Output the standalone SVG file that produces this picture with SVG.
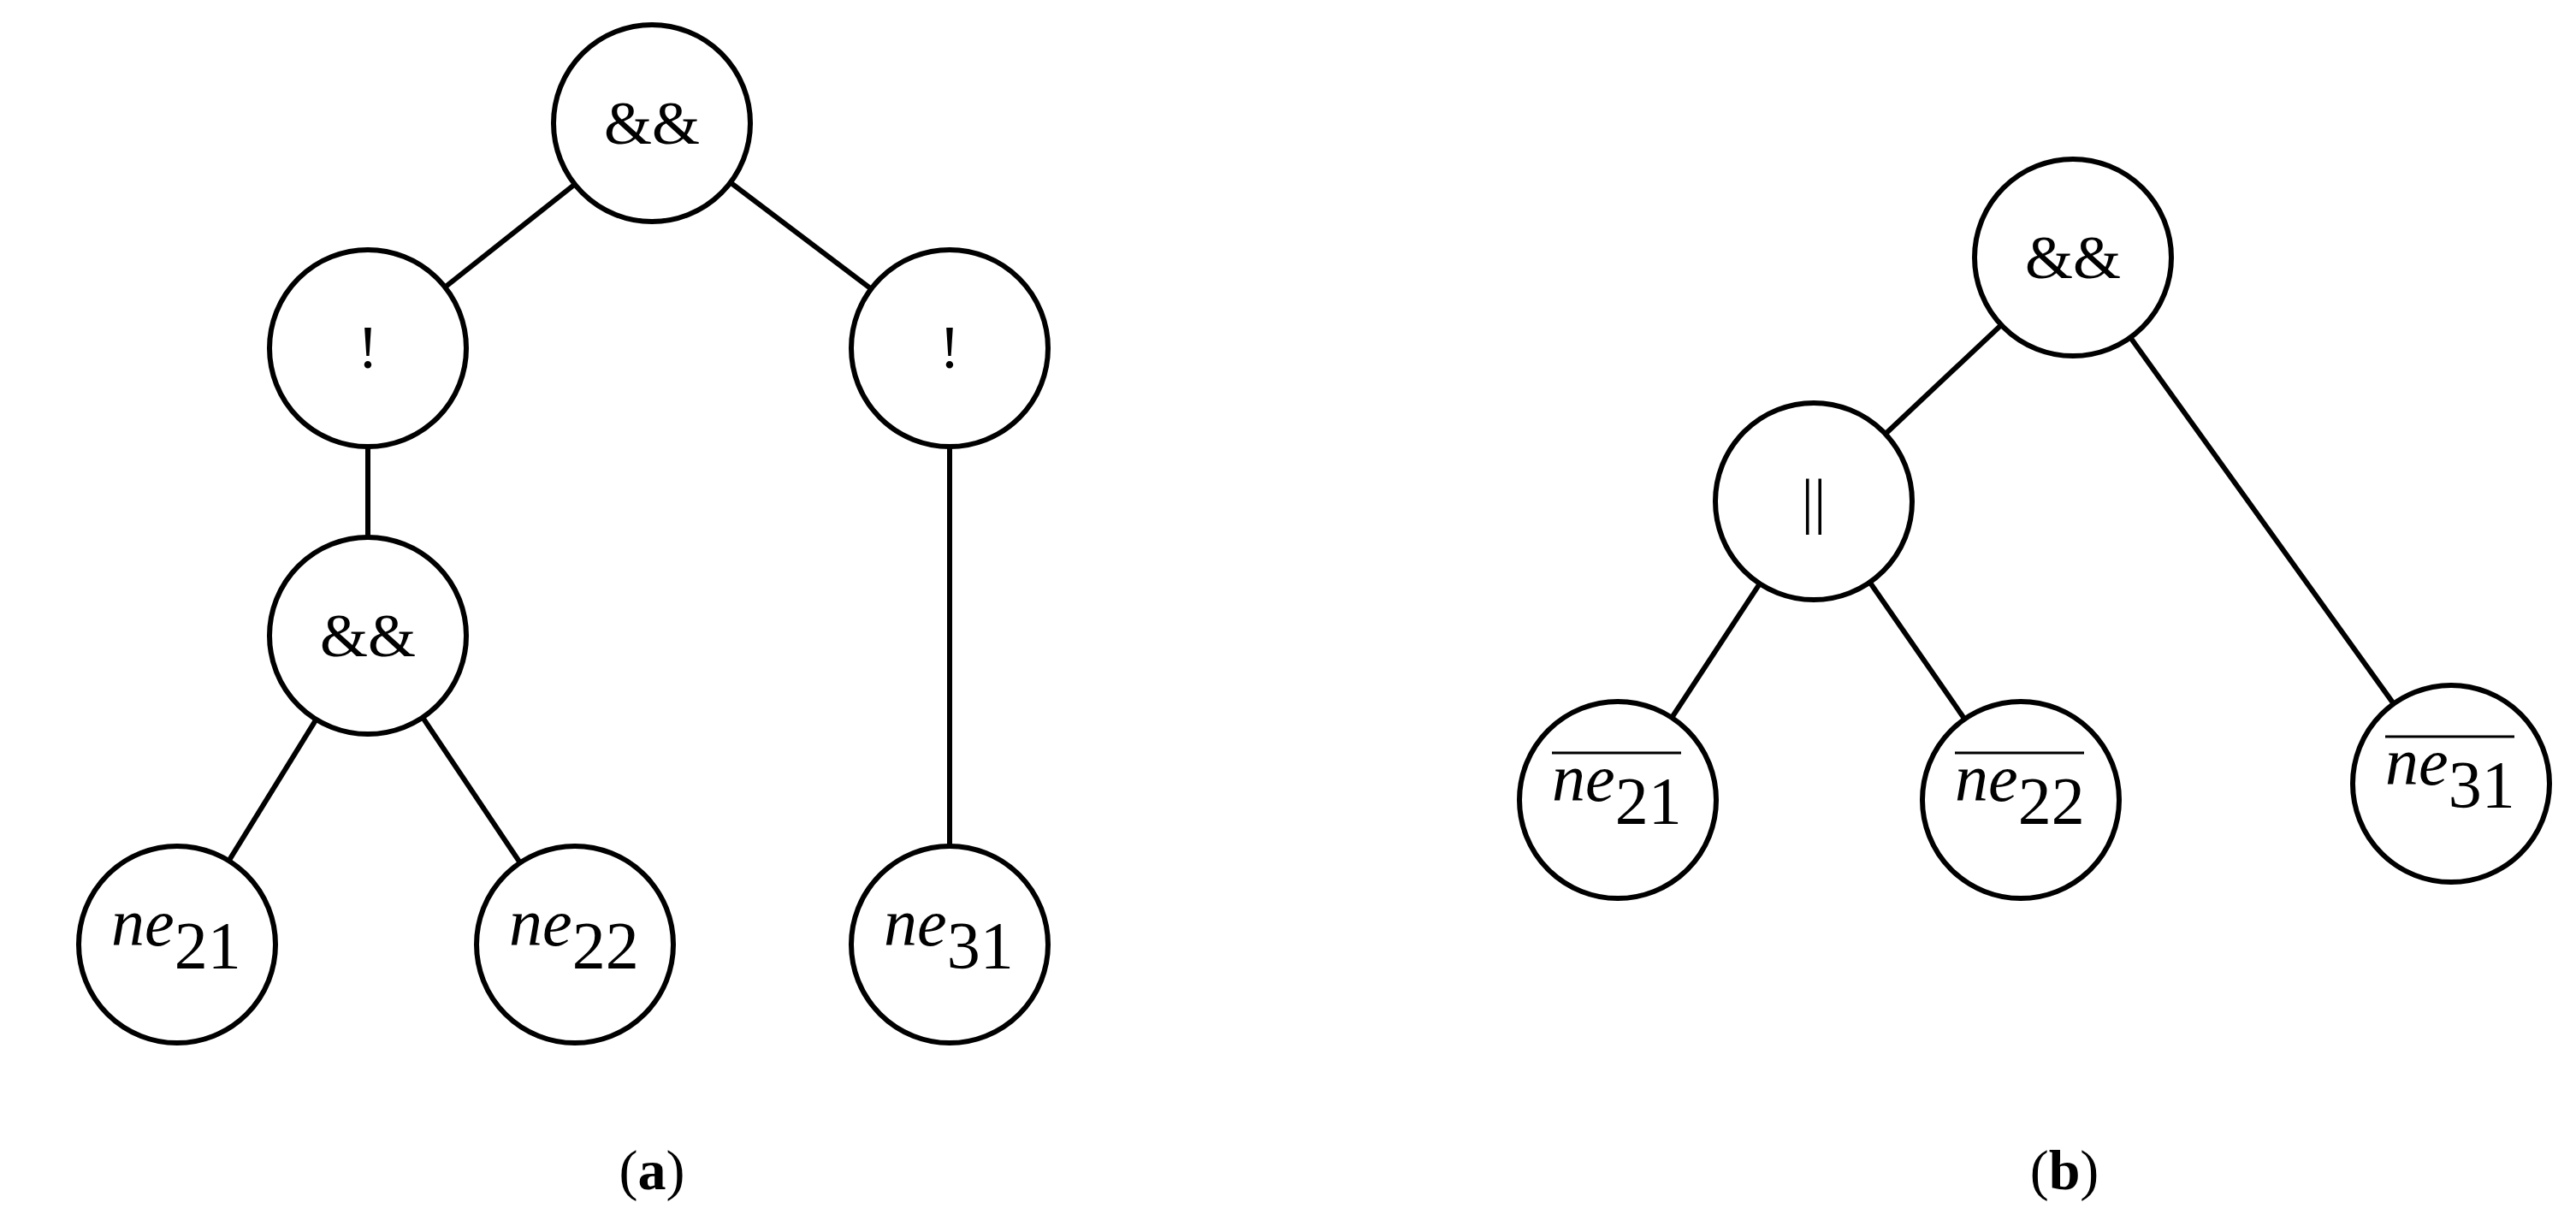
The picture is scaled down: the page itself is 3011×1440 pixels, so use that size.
<svg xmlns="http://www.w3.org/2000/svg" width="3011" height="1440" viewBox="0 0 3011 1440">
<style>
circle{fill:#fff;stroke:#000;stroke-width:6}
line{stroke:#000;stroke-width:6}
text{font-family:"Liberation Serif",serif;text-anchor:middle;fill:#000}
.op{font-size:72px}
.v{font-size:78px;text-anchor:start}
.cap{font-size:66px}
</style>
<rect width="3011" height="1440" fill="#fff"/>
<g id="connectors">
<line x1="762" y1="144" x2="430" y2="407"/>
<line x1="762" y1="144" x2="1110" y2="407"/>
<line x1="430" y1="407" x2="430" y2="743"/>
<line x1="430" y1="743" x2="207" y2="1104"/>
<line x1="430" y1="743" x2="672" y2="1104"/>
<line x1="1110" y1="407" x2="1110" y2="1104"/>
<line x1="2423" y1="301" x2="2120" y2="586"/>
<line x1="2423" y1="301" x2="2865" y2="916"/>
<line x1="2120" y1="586" x2="1891" y2="935"/>
<line x1="2120" y1="586" x2="2362" y2="935"/>
</g>
<g id="a_root"><circle cx="762" cy="144" r="115"/><text class="op" x="762" y="168">&amp;&amp;</text></g>
<g id="a_not1"><circle cx="430" cy="407" r="115"/><text class="op" x="430" y="430">!</text></g>
<g id="a_not2"><circle cx="1110" cy="407" r="115"/><text class="op" x="1110" y="430">!</text></g>
<g id="a_and"><circle cx="430" cy="743" r="115"/><text class="op" x="430" y="767">&amp;&amp;</text></g>
<g id="a_ne21"><circle cx="207" cy="1104" r="115"/><text class="v" x="130" y="1105"><tspan font-style="italic">ne</tspan><tspan dy="26">21</tspan></text></g>
<g id="a_ne22"><circle cx="672" cy="1104" r="115"/><text class="v" x="595" y="1105"><tspan font-style="italic">ne</tspan><tspan dy="26">22</tspan></text></g>
<g id="a_ne31"><circle cx="1110" cy="1104" r="115"/><text class="v" x="1033" y="1105"><tspan font-style="italic">ne</tspan><tspan dy="26">31</tspan></text></g>
<g id="b_root"><circle cx="2423" cy="301" r="115"/><text class="op" x="2423" y="325">&amp;&amp;</text></g>
<g id="b_or"><circle cx="2120" cy="586" r="115"/><text class="op" x="2120" y="610">||</text></g>
<g id="b_ne21"><circle cx="1891" cy="935" r="115"/><line x1="1814" y1="880" x2="1965" y2="880" style="stroke-width:3"/><text class="v" x="1814" y="936"><tspan font-style="italic">ne</tspan><tspan dy="26">21</tspan></text></g>
<g id="b_ne22"><circle cx="2362" cy="935" r="115"/><line x1="2285" y1="880" x2="2436" y2="880" style="stroke-width:3"/><text class="v" x="2285" y="936"><tspan font-style="italic">ne</tspan><tspan dy="26">22</tspan></text></g>
<g id="b_ne31"><circle cx="2865" cy="916" r="115"/><line x1="2788" y1="861" x2="2939" y2="861" style="stroke-width:3"/><text class="v" x="2788" y="917"><tspan font-style="italic">ne</tspan><tspan dy="26">31</tspan></text></g>
<text class="cap" x="762" y="1390">(<tspan font-weight="bold">a</tspan>)</text>
<text class="cap" x="2413" y="1390">(<tspan font-weight="bold">b</tspan>)</text>
</svg>
